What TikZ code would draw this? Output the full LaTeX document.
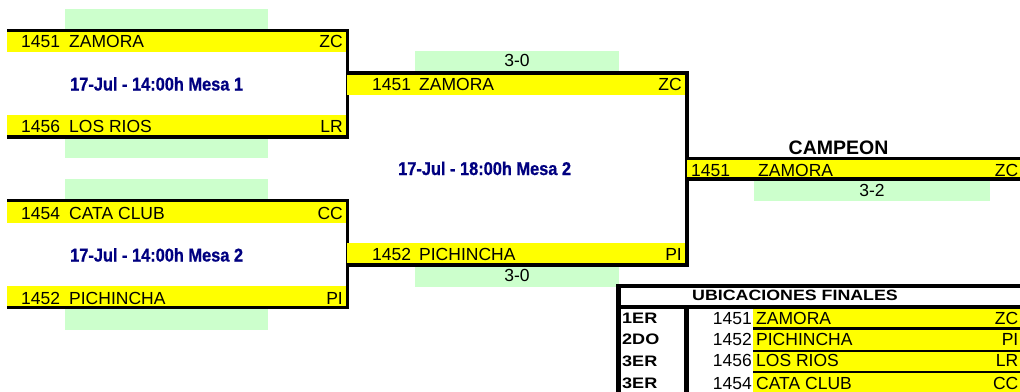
\documentclass[tikz,border=0pt]{standalone}
\usepackage{fontspec}
\setmainfont{Liberation Sans}
\newfontfamily\datefont[FakeStretch=0.885,FakeBold=0.8]{Liberation Sans}
\usepackage{tikz}
\definecolor{teamyellow}{HTML}{FFFF00}
\definecolor{scoregreen}{HTML}{CCFFCC}
\definecolor{datenavy}{HTML}{000080}
\tikzset{
  band/.style={fill=teamyellow, draw=none, inner sep=0, anchor=north west},
  scorebox/.style={fill=scoregreen, draw=none, inner sep=0, anchor=north west},
  txt/.style={inner sep=0, font=\fontsize{17.5}{18}\selectfont},
  boldtxt/.style={inner sep=0, font=\bfseries\fontsize{19}{19}\selectfont},
  datetxt/.style={inner sep=0, text=datenavy, font=\datefont\bfseries\fontsize{18.5}{19}\selectfont},
  bracket/.style={line width=3.3pt},
  tabline/.style={line width=4.5pt},
  rowline/.style={line width=2.5pt}
}

\begin{document}
\begin{tikzpicture}[x=1pt,y=-1pt]
    \useasboundingbox (0,0) rectangle (1020,391);

    % first match, table 1
    \node[scorebox, minimum width=203pt, minimum height=20.5pt] (g1a) at (65,9) {};
    \node[scorebox, minimum width=203pt, minimum height=21pt] (g1b) at (65,137) {};
    \node[band, minimum width=340pt, minimum height=21pt] (m1a) at (7,30.5) {};
    \node[band, minimum width=340pt, minimum height=21.5pt] (m1b) at (7,115) {};
    \node[txt, anchor=base west] (n1a) at (21,47.5) {1451};
    \node[txt, anchor=base west] (t1a) at (69,47.5) {ZAMORA};
    \node[txt, anchor=base east] (c1a) at (343,47.5) {ZC};
    \node[txt, anchor=base west] (n1b) at (21,132.5) {1456};
    \node[txt, anchor=base west] (t1b) at (69,132.5) {LOS RIOS};
    \node[txt, anchor=base east] (c1b) at (343,132.5) {LR};
    \node[datetxt, anchor=base west] (d1) at (70,90.5) {17-Jul - 14:00h Mesa 1};
    \draw[bracket] (m1a.north west) -- (m1a.north east) -- (m1b.south east) -- (m1b.south west);

    % first match, table 2
    \node[scorebox, minimum width=203pt, minimum height=20.5pt] (g2a) at (65,179) {};
    \node[scorebox, minimum width=203pt, minimum height=22pt] (g2b) at (65,308) {};
    \node[band, minimum width=340pt, minimum height=22pt] (m2a) at (7,200.5) {};
    \node[band, minimum width=340pt, minimum height=21pt] (m2b) at (7,286) {};
    \node[txt, anchor=base west] (n2a) at (21,219.5) {1454};
    \node[txt, anchor=base west] (t2a) at (69,219.5) {CATA CLUB};
    \node[txt, anchor=base east] (c2a) at (343,219.5) {CC};
    \node[txt, anchor=base west] (n2b) at (21,304) {1452};
    \node[txt, anchor=base west] (t2b) at (69,304) {PICHINCHA};
    \node[txt, anchor=base east] (c2b) at (343,304) {PI};
    \node[datetxt, anchor=base west] (d2) at (70,261.5) {17-Jul - 14:00h Mesa 2};
    \draw[bracket] (m2a.north west) -- (m2a.north east) -- (m2b.south east) -- (m2b.south west);

    % final
    \node[scorebox, minimum width=204pt, minimum height=21.5pt] (g3a) at (415,51) {};
    \node[scorebox, minimum width=204pt, minimum height=22pt] (g3b) at (415,265) {};
    \node[txt, anchor=base] (s3a) at (517,66.5) {3-0};
    \node[txt, anchor=base] (s3b) at (517,281) {3-0};
    \node[band, minimum width=339.5pt, minimum height=21.5pt] (m3a) at (347,73) {};
    \node[band, minimum width=339.5pt, minimum height=21.5pt] (m3b) at (347,243) {};
    \node[txt, anchor=base west] (n3a) at (372,90) {1451};
    \node[txt, anchor=base west] (t3a) at (419,90) {ZAMORA};
    \node[txt, anchor=base east] (c3a) at (682,90) {ZC};
    \node[txt, anchor=base west] (n3b) at (372,260.5) {1452};
    \node[txt, anchor=base west] (t3b) at (419,260.5) {PICHINCHA};
    \node[txt, anchor=base east] (c3b) at (682,260.5) {PI};
    \node[datetxt, anchor=base west] (d3) at (398,175) {17-Jul - 18:00h Mesa 2};
    \draw[bracket] (m3a.north west) -- (m3a.north east) -- (m3b.south east) -- (m3b.south west);

    % champion
    \node[boldtxt, font=\bfseries\fontsize{19.5}{20}\selectfont, anchor=base] (champ) at (838.5,154) {CAMPEON};
    \node[band, minimum width=334pt, minimum height=20pt] (fin) at (686.5,158.5) {};
    \node[scorebox, minimum width=236pt, minimum height=21pt] (g4) at (754,180) {};
    \node[txt, anchor=base] (s4) at (872,196) {3-2};
    \node[txt, anchor=base west] (n4) at (691,176) {1451};
    \node[txt, anchor=base west] (t4) at (758,176) {ZAMORA};
    \node[txt, anchor=base east] (c4) at (1018.5,176) {ZC};
    \draw[bracket] (fin.north west) -- (fin.north east);
    \draw[bracket] (fin.south west) -- (fin.south east);

    % final standings
    \node[band, minimum width=267pt, minimum height=21pt] (r1) at (753,307) {};
    \node[band, minimum width=267pt, minimum height=22.5pt] (r2) at (753,328) {};
    \node[band, minimum width=267pt, minimum height=21pt] (r3) at (753,350.5) {};
    \node[band, minimum width=267pt, minimum height=21.5pt] (r4) at (753,371.5) {};
    \draw[rowline] (r1.south west) -- (r1.south east);
    \draw[rowline] (r2.south west) -- (r2.south east);
    \draw[rowline] (r3.south west) -- (r3.south east);
    \coordinate (tabtr) at (1024,286);
    \coordinate (tabtl) at (618.5,286);
    \coordinate (tabbl) at (618.5,395);
    \coordinate (headl) at (618.5,307);
    \coordinate (headr) at (1024,307);
    \coordinate (divt) at (686.5,307);
    \coordinate (divb) at (686.5,395);
    \draw[tabline] (tabtr) -- (tabtl) -- (tabbl);
    \draw[tabline] (headl) -- (headr);
    \draw[tabline] (divt) -- (divb);
    \node[boldtxt, font=\bfseries\fontsize{17.8}{18}\selectfont, anchor=base] (ubic) at (795,300) {\scalebox{1}[0.84]{UBICACIONES FINALES}};
    \node[boldtxt, anchor=base west] (p1) at (622,323.5) {\scalebox{0.95}[0.8]{1ER}};
    \node[boldtxt, anchor=base west] (p2) at (622,344.5) {\scalebox{0.95}[0.8]{2DO}};
    \node[boldtxt, anchor=base west] (p3) at (622,366) {\scalebox{0.95}[0.8]{3ER}};
    \node[boldtxt, anchor=base west] (p4) at (622,388.5) {\scalebox{0.95}[0.8]{3ER}};
    \node[txt, anchor=base east] (k1) at (752,324) {1451};
    \node[txt, anchor=base west] (u1) at (756,324) {ZAMORA};
    \node[txt, anchor=base east] (v1) at (1018.5,324) {ZC};
    \node[txt, anchor=base east] (k2) at (752,345) {1452};
    \node[txt, anchor=base west] (u2) at (756,345) {PICHINCHA};
    \node[txt, anchor=base east] (v2) at (1018.5,345) {PI};
    \node[txt, anchor=base east] (k3) at (752,366.5) {1456};
    \node[txt, anchor=base west] (u3) at (756,366.5) {LOS RIOS};
    \node[txt, anchor=base east] (v3) at (1018.5,366.5) {LR};
    \node[txt, anchor=base east] (k4) at (752,389) {1454};
    \node[txt, anchor=base west] (u4) at (756,389) {CATA CLUB};
    \node[txt, anchor=base east] (v4) at (1018.5,389) {CC};
\end{tikzpicture}
\end{document}
